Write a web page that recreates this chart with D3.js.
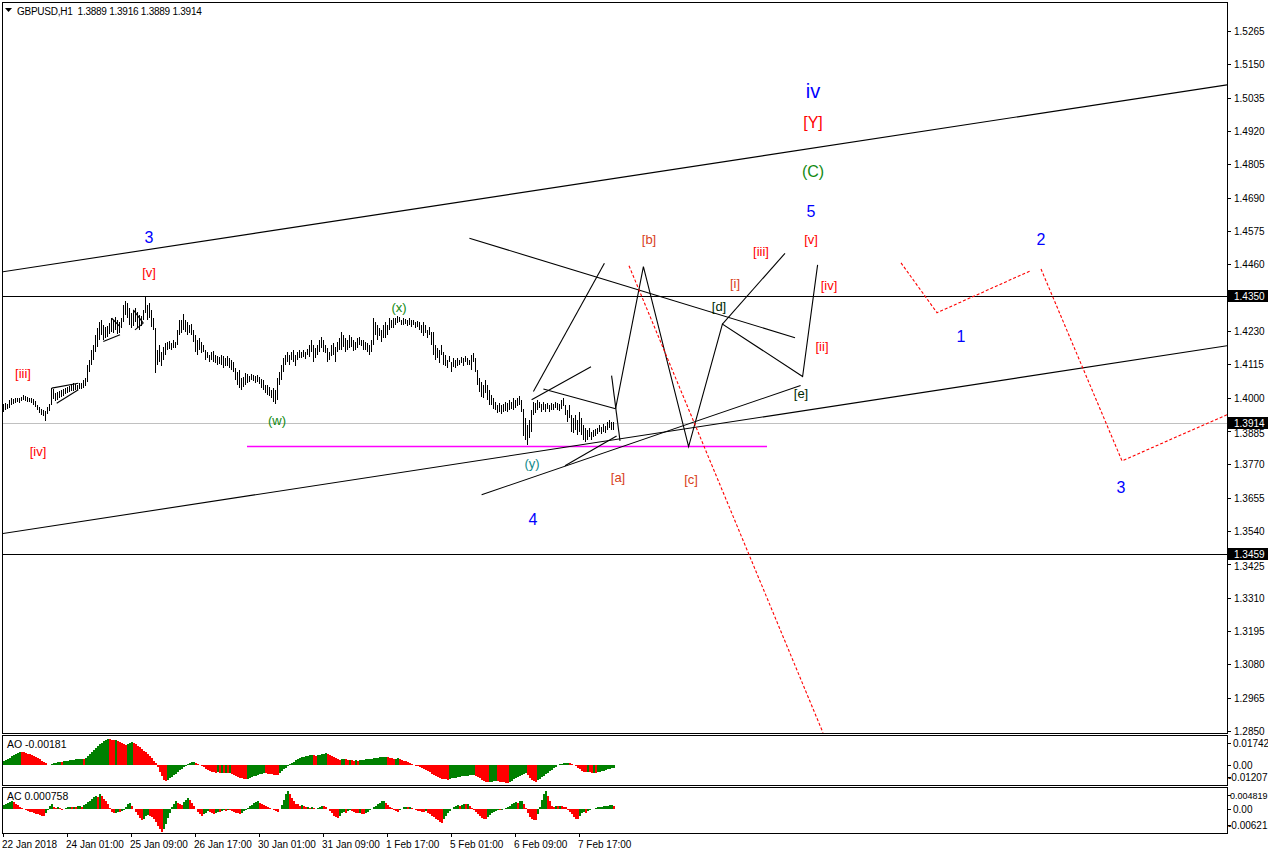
<!DOCTYPE html>
<html><head><meta charset="utf-8">
<script src="https://cdn.jsdelivr.net/npm/d3@7"></script>
<style>
body{margin:0;background:#fff;}
svg{display:block;font-family:"Liberation Sans",Arial,sans-serif;}
</style></head><body>
<svg id="c" width="1268" height="856"></svg>
<script>
// ---------------- DATA ----------------
const titleText = "GBPUSD,H1  1.3889 1.3916 1.3889 1.3914";
const timeLabels = ["22 Jan 2018","24 Jan 01:00","25 Jan 09:00","26 Jan 17:00","30 Jan 01:00","31 Jan 09:00","1 Feb 17:00","5 Feb 01:00","6 Feb 09:00","7 Feb 17:00"];
const timeLabelBars = [0,32,64,96,128,160,192,224,256,288];
const priceTicks = [1.5265,1.5150,1.5035,1.4920,1.4805,1.4690,1.4575,1.4460,1.4230,1.4115,1.4000,1.3885,1.3770,1.3655,1.3540,1.3425,1.3310,1.3195,1.3080,1.2965,1.2850];
const markedLevels = [1.4350, 1.3914, 1.3459];   // boxed labels on the price axis
const hLines = [1.4350, 1.3459];                 // black horizontal lines
const bidPrice = 1.3914;                          // grey bid line
const aoTicks = [0.01742, 0.00, -0.01207];
const acTicks = [0.004819, 0.00, -0.00621];
const aoLast = "-0.00181", acLast = "0.000758";

// H1 bar highs / lows, in pips (price x 10000)
const highPips = [13979,13982,13979,13993,13999,13996,13999,13999,13999,14003,
14010,14006,14003,13999,13999,13996,13989,13975,13968,13962,
13958,13955,13968,13979,14034,14031,14017,14020,14024,14027,
14031,14034,14037,14041,14044,14051,14048,14044,14051,14051,
14062,14068,14113,14131,14165,14182,14217,14241,14261,14268,
14251,14244,14248,14258,14275,14268,14279,14268,14261,14275,
14320,14334,14327,14310,14293,14303,14310,14296,14286,14282,
14303,14348,14320,14327,14303,14275,14241,14165,14182,14158,
14175,14189,14193,14196,14189,14199,14193,14234,14268,14268,
14289,14268,14261,14251,14255,14234,14217,14199,14206,14193,
14182,14165,14158,14148,14158,14162,14148,14144,14141,14148,
14144,14137,14144,14137,14131,14124,14103,14089,14096,14068,
14072,14086,14082,14075,14082,14079,14075,14079,14072,14065,
14062,14044,14044,14037,14027,14034,14027,14068,14089,14113,
14137,14148,14158,14148,14158,14165,14148,14158,14165,14158,
14165,14158,14168,14182,14199,14182,14172,14182,14199,14210,
14199,14182,14172,14158,14182,14189,14175,14193,14206,14227,
14217,14206,14199,14217,14210,14199,14193,14206,14210,14199,
14199,14193,14189,14182,14199,14275,14261,14251,14241,14234,
14251,14261,14251,14275,14268,14275,14275,14282,14279,14268,
14275,14272,14268,14275,14268,14268,14261,14265,14261,14251,
14261,14251,14234,14244,14227,14227,14182,14172,14165,14182,
14158,14148,14131,14144,14124,14137,14131,14137,14131,14141,
14137,14144,14137,14131,14148,14155,14137,14096,14068,14055,
14044,14062,14044,14027,14010,13999,13986,13975,13982,13975,
13979,13986,13982,13993,13986,13999,13993,13999,14006,13993,
13962,13931,13906,13924,13958,13986,13982,13993,13986,13979,
13986,13979,13982,13975,13982,13979,13986,13982,13979,13993,
13999,13975,13958,13975,13941,13931,13941,13924,13951,13931,
13906,13896,13889,13896,13882,13889,13893,13896,13906,13899,
13910,13903,13917,13924,13917,13916];
const lowPips = [13951,13958,13962,13965,13975,13979,13982,13986,13982,13989,
13993,13989,13986,13986,13982,13975,13968,13958,13948,13941,
13937,13920,13944,13955,13975,13996,13989,13993,13999,14003,
14006,14013,14017,14020,14024,14024,14027,14027,14031,14031,
14034,14041,14055,14089,14113,14131,14158,14175,14199,14217,
14199,14206,14210,14220,14227,14224,14234,14220,14224,14241,
14261,14286,14275,14251,14241,14248,14261,14241,14234,14248,
14268,14293,14268,14275,14244,14234,14086,14113,14124,14110,
14131,14148,14165,14168,14165,14172,14172,14182,14217,14224,
14234,14227,14217,14224,14217,14193,14158,14148,14165,14155,
14158,14131,14137,14124,14131,14124,14120,14113,14117,14113,
14103,14110,14110,14103,14096,14089,14062,14044,14034,14027,
14037,14044,14051,14055,14062,14058,14051,14055,14048,14034,
14027,14017,14010,14006,13999,13986,13979,13993,14044,14062,
14089,14113,14124,14113,14131,14124,14110,14131,14137,14137,
14141,14134,14148,14141,14158,14124,14137,14148,14158,14172,
14158,14155,14124,14131,14144,14148,14124,14158,14165,14165,
14175,14158,14165,14172,14175,14162,14165,14172,14182,14179,
14165,14165,14158,14148,14158,14182,14217,14199,14213,14193,
14206,14206,14217,14234,14241,14241,14251,14258,14261,14251,
14251,14255,14248,14251,14244,14251,14241,14244,14234,14224,
14213,14224,14206,14217,14182,14148,14131,14137,14120,14148,
14113,14110,14103,14124,14089,14106,14103,14110,14113,14120,
14110,14124,14113,14113,14096,14124,14089,14044,14020,14003,
13999,14017,13993,13975,13975,13962,13958,13948,13951,13944,
13951,13955,13951,13958,13962,13958,13965,13972,13975,13951,
13868,13855,13837,13861,13882,13941,13948,13958,13965,13951,
13958,13951,13962,13951,13958,13958,13965,13958,13955,13962,
13972,13941,13917,13931,13882,13879,13889,13872,13882,13872,
13855,13848,13855,13865,13855,13865,13868,13875,13882,13875,
13882,13879,13889,13896,13889,13889];

// Awesome Oscillator values (x 1e-4)
const aoValues = [25,33,41,50,58,66,74,81,87,
86,84,81,77,72,66,60,53,45,37,28,19,10,2,
-2,
4,10,15,19,22,21,24,27,29,31,33,35,37,39,41,43,42,
50,60,72,85,98,112,125,138,150,160,168,174,
172,170,166,168,
160,152,146,140,136,
142,150,154,
146,138,128,118,108,96,84,72,58,44,28,10,
-15,-45,-75,-98,-107,
-100,-90,-80,-70,-60,-48,-36,-25,-14,-5,
5,12,18,20,
15,8,0,-8,-16,-24,-32,-38,-44,-48,
-52,-50,-53,-51,-55,-53,-56,-54,
-60,-66,-72,-78,-84,-89,-93,-95,
-91,-87,-82,-77,-72,-67,-62,-58,-55,
-57,-59,-61,-63,-65,-66,-67,
-55,-42,-30,-18,-6,
5,14,23,31,38,45,51,56,60,63,66,68,
65,62,
66,70,74,77,80,
76,70,63,56,49,42,36,
38,40,37,34,36,33,30,32,29,31,33,
35,37,39,41,43,46,48,50,52,54,55,56,
52,48,44,40,42,44,40,35,30,25,
20,14,8,2,-4,-10,-16,-22,-28,-34,
-42,-50,-58,-66,-74,-81,-87,-92,-95,
-97,-98,
-93,-90,-87,-84,-81,-79,-77,-75,-73,-71,-69,-68,-67,
-74,-82,-90,-98,-106,-112,-117,
-114,-111,-108,-106,
-109,-112,-115,-117,-119,-120,
-113,-105,-97,-89,-81,-73,-66,-60,-55,
-70,-85,-98,-108,-112,
-102,-92,-82,-72,-62,-52,-42,-32,-22,-12,-3,
4,8,11,13,14,
12,8,0,-10,-20,-30,-38,-44,
-48,-46,-50,-53,-51,-54,
-50,-46,-42,-38,-34,-30,-26,-22,-18.1];

// Accelerator Oscillator values (x 1e-4)
const acValues = [10,13,16,19,21,
18,14,10,6,3,0,
-3,-5,-7,-9,-11,-13,-15,-17,-18,-19,
-10,-2,8,13,
6,3,5,2,-2,
0,3,4,5,4,6,5,7,8,6,
10,14,18,22,26,31,36,
32,40,35,28,20,12,2,
-8,-12,-10,-7,-9,-6,-4,5,12,15,
8,0,-8,-16,-24,-30,
-26,-20,-16,-18,-22,-28,
-36,-45,-55,-62,
-55,-40,-25,-10,5,14,21,
16,12,10,
18,25,30,
24,16,8,0,-8,-14,-19,
-14,-10,-6,
-9,-12,-13,
-10,-8,-9,-6,-4,-5,-3,-4,-6,-8,-10,-12,-13,-10,-6,-2,3,7,11,15,18,20,
17,14,11,8,5,2,-1,-3,-5,-7,
0,10,25,40,48,
40,30,22,14,12,
8,10,7,4,6,3,5,2,-1,3,
6,9,7,4,0,
-6,-12,-18,-22,-25,
-18,-12,-8,-10,-6,-3,-5,
-8,-10,-12,-11,-13,-14,-12,
-8,-4,0,4,
9,13,17,20,21,
16,11,6,2,-2,-5,-8,
-4,0,4,6,4,5,
2,-1,-3,-5,-6,-7,-8,-6,
-10,-14,-18,-22,-26,-30,-34,-37,
-28,-20,-12,-5,1,
5,8,10,9,11,13,12,13,
8,3,-3,-9,
-15,-20,-24,-27,-28,
-22,-16,-11,-7,-5,-3,-4,-2,1,3,5,
9,13,16,19,17,20,21,14,2,
-12,-22,-28,-29,
-31,
-15,5,25,40,48,
35,20,8,
6,8,7,9,8,6,4,
-2,-8,-15,-22,-26,-28,
-20,-12,-8,-10,-6,-2,
-1,1,3,4,5,6,7,8,9,9.5,10,
7.58];

// Drawn trend lines: [barIndex, price] pairs (future bars continue the index)
const blackLines = [
  [[-0.5,1.4434],[612,1.5079]],   // upper channel
  [[-0.5,1.3531],[612,1.4179]],   // lower channel
  [[233.2,1.4550],[396,1.4207]],
  [[265.2,1.4021],[300.7,1.4464]],
  [[264.3,1.3993],[294,1.4107]],
  [[270.2,1.4030],[306.3,1.3962]],
  [[304.3,1.4076],[308.5,1.3851]],
  [[239.3,1.3665],[398.8,1.4042]],
  [[281,1.3765],[306.8,1.3868]],
  [[359.7,1.4254],[391,1.4498]],
  [[24.35,1.4033],[37.65,1.4050]],
  [[26.85,1.3981],[37.65,1.4027]],
  [[54.35,1.4274],[58.5,1.4245]],
  [[50.15,1.4194],[58.5,1.4217]],
  [[65.15,1.4303],[70.15,1.4257]],
  [[66,1.4234],[70.15,1.4257]]
];
const zigzag = [[306.3,1.3962],[320.2,1.4452],[342.8,1.3831],[359.7,1.4254],[399.8,1.4073],[407.3,1.4458]];
const magentaLine = [[122,1.3834],[382,1.3834]];
const redDotted = [
  [[313,1.4455],[410,1.2844]],
  [[449,1.4465],[467,1.4293],[513.5,1.4437]],
  [[519,1.4444],[559.5,1.3782],[612,1.3941]]
];
const waveLabels = [
  {t:"3",i:73,p:1.4551,c:"blue",s:16},
  {t:"[v]",i:73,p:1.4431,c:"red",s:13},
  {t:"[iii]",i:10,p:1.4082,c:"red",s:13},
  {t:"[iv]",i:17.5,p:1.3813,c:"red",s:13},
  {t:"(w)",i:137,p:1.3920,c:"green",s:13},
  {t:"(x)",i:198,p:1.4310,c:"green",s:13},
  {t:"(y)",i:264.5,p:1.3772,c:"teal",s:13},
  {t:"4",i:265,p:1.3579,c:"blue",s:16},
  {t:"[a]",i:307.5,p:1.3724,c:"brown",s:13},
  {t:"[b]",i:323,p:1.4544,c:"brown",s:13},
  {t:"[c]",i:344,p:1.3717,c:"brown",s:13},
  {t:"[d]",i:358,p:1.4313,c:"dark",s:13},
  {t:"[e]",i:399,p:1.4013,c:"dark",s:13},
  {t:"[i]",i:366,p:1.4393,c:"brown",s:13},
  {t:"[ii]",i:409.5,p:1.4175,c:"red",s:13},
  {t:"[iii]",i:379,p:1.4506,c:"red",s:13},
  {t:"[iv]",i:413,p:1.4386,c:"red",s:13},
  {t:"[v]",i:404,p:1.4544,c:"red",s:13},
  {t:"5",i:404,p:1.4641,c:"blue",s:16},
  {t:"(C)",i:405,p:1.4782,c:"green",s:16},
  {t:"[Y]",i:405,p:1.4948,c:"red",s:16},
  {t:"iv",i:405,p:1.5058,c:"blue",s:20},
  {t:"1",i:479,p:1.4210,c:"blue",s:16},
  {t:"2",i:519,p:1.4544,c:"blue",s:16},
  {t:"3",i:559,p:1.3689,c:"blue",s:16}
];
const labelColors = {blue:"#0000ff", red:"#ff0000", green:"#128a12", teal:"#108a8a", brown:"#d8401a", dark:"#002800"};

// ---------------- DRAWING ----------------
const svg = d3.select("#c");
const PL = 2, PR = 1227;
const mainTop = 2, mainBot = 733, aoTop = 735, aoBot = 785, acTop = 787, acBot = 833;

const x = d3.scaleLinear().domain([0, 305]).range([3, 613]);
const y = d3.scaleLinear().domain([1.2850, 1.5265]).range([731, 31]);
const yAO = d3.scaleLinear().domain([-0.01207, 0.01742]).range([783, 739]);
const yAC = d3.scaleLinear().domain([-0.00621, 0.004819]).range([832, 791]);

const defs = svg.append("defs");
function clip(id, y0, y1){ defs.append("clipPath").attr("id", id).append("rect").attr("x", PL+1).attr("y", y0+1).attr("width", PR-PL-1).attr("height", y1-y0-1); }
clip("cm", mainTop, mainBot); clip("cao", aoTop, aoBot); clip("cac", acTop, acBot);

const gMain = svg.append("g").attr("clip-path", "url(#cm)");

// horizontal lines
gMain.selectAll(".hl").data(hLines).join("line")
  .attr("x1", PL).attr("x2", PR).attr("y1", d => Math.round(y(d)) + 0.5).attr("y2", d => Math.round(y(d)) + 0.5)
  .attr("stroke", "#000").attr("stroke-width", 1);
gMain.append("line").attr("x1", PL).attr("x2", PR)
  .attr("y1", Math.round(y(bidPrice)) + 0.5).attr("y2", Math.round(y(bidPrice)) + 0.5)
  .attr("stroke", "#c0c0c0").attr("stroke-width", 1);

// magenta support
gMain.append("line").attr("x1", x(magentaLine[0][0])).attr("x2", x(magentaLine[1][0]))
  .attr("y1", Math.round(y(magentaLine[0][1])) + 0.5).attr("y2", Math.round(y(magentaLine[1][1])) + 0.5)
  .attr("stroke", "#ff00ff").attr("stroke-width", 1.3);

// price bars
const bars = d3.range(Math.min(highPips.length, lowPips.length));
gMain.append("g").selectAll("line").data(bars).join("line")
  .attr("x1", i => x(i) + 0.5).attr("x2", i => x(i) + 0.5)
  .attr("y1", i => Math.round(y(highPips[i] / 1e4)))
  .attr("y2", i => Math.max(Math.round(y(lowPips[i] / 1e4)), Math.round(y(highPips[i] / 1e4)) + 2))
  .attr("stroke", "#000").attr("stroke-width", 1).attr("shape-rendering", "crispEdges");

// trend lines
const lineGen = d3.line().x(d => x(d[0])).y(d => y(d[1]));
gMain.selectAll(".bl").data(blackLines).join("path")
  .attr("d", lineGen).attr("fill", "none").attr("stroke", "#000").attr("stroke-width", 1.1);
gMain.append("path").attr("d", lineGen(zigzag)).attr("fill", "none").attr("stroke", "#000").attr("stroke-width", 1.1);
gMain.selectAll(".rd").data(redDotted).join("path")
  .attr("d", lineGen).attr("fill", "none").attr("stroke", "#ff0000").attr("stroke-width", 1.1)
  .attr("stroke-dasharray", "3,2");

// wave labels
gMain.selectAll(".wl").data(waveLabels).join("text")
  .attr("x", d => x(d.i)).attr("y", d => y(d.p))
  .attr("text-anchor", "middle").attr("dominant-baseline", "central")
  .attr("font-size", d => d.s).attr("fill", d => labelColors[d.c]).text(d => d.t);

// oscillator histograms
function histogram(values, scale, clipId){
  const g = svg.append("g").attr("clip-path", "url(#" + clipId + ")");
  const z = scale(0);
  g.selectAll("rect").data(values).join("rect")
    .attr("x", (d, i) => x(i) - 0.5).attr("width", 2)
    .attr("y", d => Math.min(scale(d / 1e4), z)).attr("height", d => Math.abs(scale(d / 1e4) - z))
    .attr("fill", (d, i) => (i === 0 || d > values[i - 1]) ? "#008000" : "#ff0000")
    .attr("shape-rendering", "crispEdges");
}
histogram(aoValues, yAO, "cao");
histogram(acValues, yAC, "cac");

// frames
const frame = svg.append("g").attr("fill", "none").attr("stroke", "#000").attr("stroke-width", 1).attr("shape-rendering", "crispEdges");
[[mainTop, mainBot], [aoTop, aoBot], [acTop, acBot]].forEach(([a, b]) => {
  frame.append("rect").attr("x", PL + 0.5).attr("y", a + 0.5).attr("width", PR - PL).attr("height", b - a);
});

// price axis
const axisFont = 10;
const ax = svg.append("g").attr("font-size", axisFont).attr("fill", "#000");
ax.selectAll(".pt").data(priceTicks).join("g").each(function(d){
  const g = d3.select(this), yy = Math.round(y(d)) + 0.5;
  // keep a label clear of the boxed bid label sitting right above it
  const shift = markedLevels.some(m => Math.abs(y(m) - y(d)) < 12 && y(m) < y(d)) ? 2 : 0;
  g.append("line").attr("x1", PR).attr("x2", PR + 4).attr("y1", yy).attr("y2", yy).attr("stroke", "#000");
  g.append("text").attr("x", PR + 7).attr("y", yy + shift).attr("dominant-baseline", "central").text(d3.format(".4f")(d));
});
markedLevels.forEach(d => {
  const yy = Math.round(y(d));
  ax.append("rect").attr("x", PR + 1).attr("y", yy - 6).attr("width", 40).attr("height", 12).attr("fill", "#000");
  ax.append("text").attr("x", PR + 7).attr("y", yy + 0.5).attr("dominant-baseline", "central").attr("fill", "#fff").text(d3.format(".4f")(d));
});
// oscillator axes (labels kept inside their sub-window)
function oscAxis(ticks, scale, top, bot){
  ticks.forEach(d => {
    const yy = Math.round(Math.max(top + 8, Math.min(bot - 8, scale(d)))) + 0.5;
    const s = d === 0 ? "0.00" : String(d);
    const long = d > 0 && s.length > 7;
    ax.append("line").attr("x1", PR).attr("x2", PR + 4).attr("y1", yy).attr("y2", yy).attr("stroke", "#000");
    ax.append("text").attr("x", d < 0 ? PR + 1 : (long ? PR + 3 : PR + 6)).attr("y", yy).attr("dominant-baseline", "central")
      .attr("font-size", long ? 9 : axisFont).text(s);
  });
}
oscAxis(aoTicks, yAO, aoTop, aoBot);
oscAxis(acTicks, yAC, acTop, acBot);

// time axis
const tx = svg.append("g").attr("font-size", axisFont).attr("fill", "#000");
timeLabelBars.forEach((b, k) => {
  const xx = Math.round(x(b)) + 0.5;
  tx.append("line").attr("x1", xx).attr("x2", xx).attr("y1", acBot).attr("y2", acBot + 4).attr("stroke", "#000");
  tx.append("text").attr("x", Math.round(x(b)) - 1).attr("y", 848).text(timeLabels[k]);
});

// title & indicator captions
svg.append("path").attr("d", "M5,8 L12,8 L8.5,12 Z").attr("fill", "#000");
svg.append("text").attr("x", 17).attr("y", 15).attr("font-size", 10).attr("letter-spacing", -0.25).attr("xml:space", "preserve").text(titleText);
svg.append("text").attr("x", 7).attr("y", 748).attr("font-size", 10.5).text("AO " + aoLast);
svg.append("text").attr("x", 7).attr("y", 800).attr("font-size", 10.5).text("AC " + acLast);
</script>
</body></html>
